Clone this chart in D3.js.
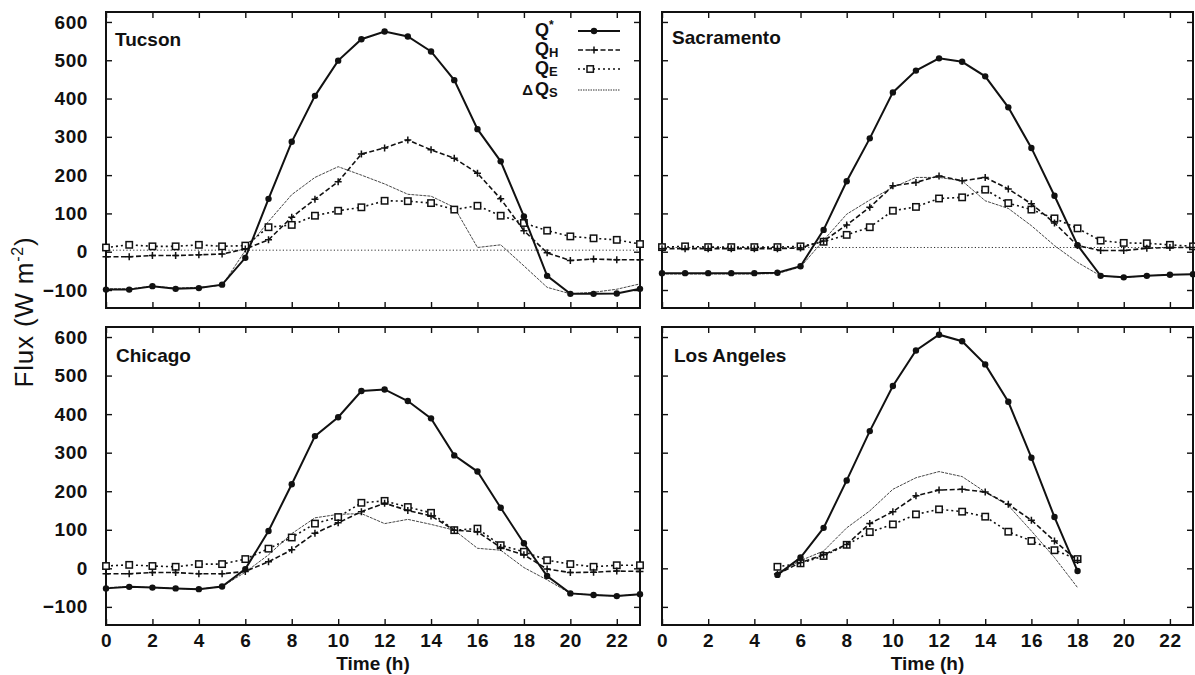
<!DOCTYPE html>
<html>
<head>
<meta charset="utf-8">
<script src="https://cdn.jsdelivr.net/npm/d3@7"></script>
<style>
  body { margin: 0; background: #fff; }
  svg { display: block; font-family: "Liberation Sans", Arial, Helvetica, sans-serif; }
</style>
</head>
<body>
<svg id="chart" width="1195" height="675"></svg>
<script>
// Hours of the day
const hours = [0,1,2,3,4,5,6,7,8,9,10,11,12,13,14,15,16,17,18,19,20,21,22,23];
const hoursLA = [5,6,7,8,9,10,11,12,13,14,15,16,17,18];
const xTicks = [0,2,4,6,8,10,12,14,16,18,20,22];
const yTicks = [-100,0,100,200,300,400,500,600];
const cities = ["Tucson", "Sacramento", "Chicago", "Los Angeles"];

// Tucson fluxes (W m-2)
const tucsonQstar = [-99,-99,-90,-97,-95,-86,-16,138,287,407,499,555,575,562,523,448,320,236,92,-63,-110,-110,-109,-97];
const tucsonQH    = [-13,-13,-10,-10,-8,-6,7,31,90,137,183,255,271,292,266,244,205,138,55,-3,-23,-19,-21,-21];
const tucsonQE    = [11,18,14,14,18,14,16,64,70,94,107,116,133,132,127,110,120,94,75,55,40,35,31,20];
const tucsonDQS   = [-97,-97,-90,-95,-93,-88,3,79,149,194,222,200,177,150,145,116,11,18,-37,-93,-110,-106,-98,-84];

// Sacramento fluxes
const sacQstar = [-56,-56,-56,-56,-56,-55,-38,57,184,296,416,473,505,496,458,377,271,146,17,-63,-67,-63,-60,-59];
const sacQH    = [8,8,8,8,8,8,10,28,70,116,172,181,198,185,194,164,125,75,16,3,3,9,11,11];
const sacQE    = [12,14,12,12,12,12,14,26,44,64,107,117,139,142,162,127,110,87,61,29,23,22,18,14];
const sacDQS   = [-58,-58,-58,-58,-58,-57,-40,30,98,135,168,194,194,185,133,113,68,16,-28,-63,-67,-63,-60,-59];

// Chicago fluxes
const chiQstar = [-52,-48,-50,-52,-54,-47,-2,97,218,343,392,460,464,434,389,293,251,157,65,-20,-65,-69,-72,-67];
const chiQH    = [-14,-14,-11,-11,-14,-14,-8,17,48,91,118,147,169,150,136,99,95,54,35,-2,-11,-10,-7,-8];
const chiQE    = [6,9,6,4,11,11,24,51,80,116,133,170,175,159,144,99,103,60,43,21,11,4,8,8];
const chiDQS   = [-50,-48,-50,-52,-54,-47,-10,35,90,131,140,142,116,127,114,99,52,47,2,-30,-65,-69,-72,-67];

// Los Angeles fluxes (daytime only)
const laQstar = [-17,28,105,228,356,473,565,606,589,529,432,287,133,-7];
const laQH    = [-15,15,35,62,116,147,188,203,205,198,166,125,71,20];
const laQE    = [4,13,32,61,94,114,140,153,147,134,95,71,47,24];
const laDQS   = [-12,20,45,105,149,205,235,251,238,198,163,97,28,-50];

// Reference level drawn across the upper panels
const referenceLevel = [4, 11];

const svg = d3.select("#chart");
const ink = "#111";

const panels = [
  { city: cities[0], hrs: hours, qstar: tucsonQstar, qh: tucsonQH, qe: tucsonQE, dqs: tucsonDQS, ref: referenceLevel[0],
    x0: 106, x1: 640, y0: 12, y1: 308, yLab: true, xLab: false, legend: true, tx: 115, ty: 46 },
  { city: cities[1], hrs: hours, qstar: sacQstar, qh: sacQH, qe: sacQE, dqs: sacDQS, ref: referenceLevel[1],
    x0: 662, x1: 1193, y0: 12, y1: 308, yLab: false, xLab: false, legend: false, tx: 672, ty: 44 },
  { city: cities[2], hrs: hours, qstar: chiQstar, qh: chiQH, qe: chiQE, dqs: chiDQS, ref: null,
    x0: 106, x1: 640, y0: 327, y1: 625, yLab: true, xLab: true, legend: false, tx: 116, ty: 362 },
  { city: cities[3], hrs: hoursLA, qstar: laQstar, qh: laQH, qe: laQE, dqs: laDQS, ref: null,
    x0: 662, x1: 1193, y0: 327, y1: 625, yLab: false, xLab: true, legend: false, tx: 674, ty: 362 }
];

function plusPath(s) { return `M${-s},0H${s}M0,${-s}V${s}`; }

panels.forEach(p => {
  const x = d3.scaleLinear().domain([0, 23]).range([p.x0, p.x1]);
  const y = d3.scaleLinear().domain([-147, 626]).range([p.y1, p.y0]);
  const g = svg.append("g");

  // Axes with inward ticks on all four sides
  const styleAxis = (sel, showText) => {
    sel.select(".domain").remove();
    sel.selectAll(".tick line").attr("stroke", ink).attr("stroke-width", 1.4);
    sel.selectAll(".tick text").attr("fill", ink).style("font-size", "19px").style("font-weight", "bold")
      .style("letter-spacing", "0.6px").attr("display", showText ? null : "none");
  };
  g.append("g").attr("transform", `translate(${p.x0},0)`)
    .call(d3.axisLeft(y).tickValues(yTicks).tickSizeInner(-6).tickSizeOuter(0).tickPadding(18))
    .call(s => styleAxis(s, p.yLab));
  g.append("g").attr("transform", `translate(${p.x1},0)`)
    .call(d3.axisRight(y).tickValues(yTicks).tickSizeInner(-6).tickSizeOuter(0))
    .call(s => styleAxis(s, false));
  g.append("g").attr("transform", `translate(0,${p.y0})`)
    .call(d3.axisTop(x).tickValues(xTicks).tickSizeInner(-6).tickSizeOuter(0))
    .call(s => styleAxis(s, false));
  g.append("g").attr("transform", `translate(0,${p.y1})`)
    .call(d3.axisBottom(x).tickValues(xTicks).tickSizeInner(-6).tickSizeOuter(0).tickPadding(9))
    .call(s => styleAxis(s, p.xLab));

  // Frame
  g.append("rect").attr("x", p.x0).attr("y", p.y0)
    .attr("width", p.x1 - p.x0).attr("height", p.y1 - p.y0)
    .attr("fill", "none").attr("stroke", ink).attr("stroke-width", 2);

  const line = d3.line().x(d => x(d[0])).y(d => y(d[1]));
  const pts = arr => p.hrs.map((h, i) => [h, arr[i]]);

  // Reference level
  if (p.ref !== null) {
    g.append("path").datum([[0, p.ref], [23, p.ref]]).attr("d", line)
      .attr("fill", "none").attr("stroke", "#333").attr("stroke-width", 1)
      .attr("stroke-dasharray", "1.2,2.2");
  }

  // Storage heat flux
  g.append("path").datum(pts(p.dqs)).attr("d", line)
    .attr("fill", "none").attr("stroke", "#333").attr("stroke-width", 0.9)
    .attr("stroke-dasharray", "3,1");

  // Latent heat flux
  g.append("path").datum(pts(p.qe)).attr("d", line)
    .attr("fill", "none").attr("stroke", ink).attr("stroke-width", 1.6)
    .attr("stroke-dasharray", "2,3");
  g.selectAll(".qe").data(pts(p.qe)).join("rect")
    .attr("x", d => x(d[0]) - 3.2).attr("y", d => y(d[1]) - 3.2)
    .attr("width", 6.4).attr("height", 6.4)
    .attr("fill", "#fff").attr("stroke", ink).attr("stroke-width", 1.5);

  // Sensible heat flux
  g.append("path").datum(pts(p.qh)).attr("d", line)
    .attr("fill", "none").attr("stroke", ink).attr("stroke-width", 1.6)
    .attr("stroke-dasharray", "5,2.5");
  g.selectAll(".qh").data(pts(p.qh)).join("path")
    .attr("transform", d => `translate(${x(d[0])},${y(d[1])})`)
    .attr("d", plusPath(3.5)).attr("stroke", ink).attr("stroke-width", 1.5);

  // Net all-wave radiation
  g.append("path").datum(pts(p.qstar)).attr("d", line)
    .attr("fill", "none").attr("stroke", ink).attr("stroke-width", 2);
  g.selectAll(".qs").data(pts(p.qstar)).join("circle")
    .attr("cx", d => x(d[0])).attr("cy", d => y(d[1])).attr("r", 3.2).attr("fill", ink);

  // City name
  g.append("text").attr("x", p.tx).attr("y", p.ty).text(p.city)
    .attr("fill", ink).style("font-size", "19px").style("font-weight", "bold");

  if (p.xLab) {
    g.append("text").attr("x", (p.x0 + p.x1) / 2).attr("y", 670).attr("text-anchor", "middle")
      .attr("fill", ink).style("font-size", "19px").style("font-weight", "bold").text("Time (h)");
  }

  if (p.legend) {
    const items = [
      { pre: "", main: "Q", sup: "*", sub: "", dash: null, w: 2, marker: "dot" },
      { pre: "", main: "Q", sup: "", sub: "H", dash: "5,2.5", w: 1.6, marker: "plus" },
      { pre: "", main: "Q", sup: "", sub: "E", dash: "2,3", w: 1.6, marker: "square" },
      { pre: "Δ", main: "Q", sup: "", sub: "S", dash: "1.5,1", w: 1, marker: null }
    ];
    const ly = [31, 50, 69, 90];
    items.forEach((it, i) => {
      const t = g.append("text").attr("x", 535).attr("y", ly[i] + 5)
        .attr("fill", ink).style("font-size", "18px").style("font-weight", "bold");
      if (it.pre) {
        g.append("text").attr("x", 533).attr("y", ly[i] + 5).attr("text-anchor", "end")
          .attr("fill", ink).style("font-size", "15px").style("font-weight", "bold").text(it.pre);
      }
      t.append("tspan").text(it.main);
      if (it.sup) t.append("tspan").attr("dy", -7).style("font-size", "12px").text(it.sup);
      if (it.sub) t.append("tspan").attr("dy", 2).style("font-size", "13px").text(it.sub);
      g.append("line").attr("x1", 578).attr("x2", 620).attr("y1", ly[i]).attr("y2", ly[i])
        .attr("stroke", it.marker ? ink : "#333").attr("stroke-width", it.w)
        .attr("stroke-dasharray", it.dash);
      if (it.marker === "dot") g.append("circle").attr("cx", 594).attr("cy", ly[i]).attr("r", 3.2).attr("fill", ink);
      if (it.marker === "plus") g.append("path").attr("transform", `translate(594,${ly[i]})`)
        .attr("d", plusPath(3.5)).attr("stroke", ink).attr("stroke-width", 1.5);
      if (it.marker === "square") g.append("rect").attr("x", 587).attr("y", ly[i] - 3.2)
        .attr("width", 6.4).attr("height", 6.4).attr("fill", "#fff").attr("stroke", ink).attr("stroke-width", 1.5);
    });
  }
});

// Shared y-axis title
const yt = svg.append("text").attr("transform", "translate(33,312) rotate(-90)")
  .attr("text-anchor", "middle").attr("fill", ink).style("font-size", "26px")
  .style("letter-spacing", "0.8px");
yt.append("tspan").text("Flux (W m");
yt.append("tspan").attr("dy", -10).style("font-size", "16px").text("-2");
yt.append("tspan").attr("dy", 10).text(")");
</script>
</body>
</html>
